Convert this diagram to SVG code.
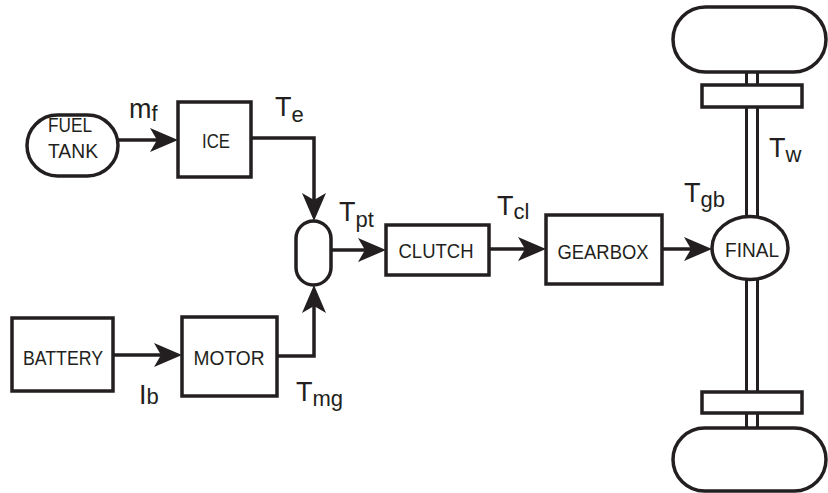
<svg xmlns="http://www.w3.org/2000/svg" width="828" height="493" viewBox="0 0 828 493">
<style>
.box{fill:#fff;stroke:#231f20;stroke-width:3.5}
.lnk{fill:none;stroke:#231f20;stroke-width:3.5}
.sh{fill:none;stroke:#231f20;stroke-width:3}
.t{font-family:"Liberation Sans",Arial,sans-serif;font-size:21px;fill:#231f20;text-anchor:middle}
.lbl{font-family:"Liberation Sans",Arial,sans-serif;font-size:27px;fill:#231f20}
.sub{font-size:22px}
</style>
<defs>
<marker id="ah" viewBox="0 0 28 24" refX="8" refY="12" markerWidth="28" markerHeight="24" markerUnits="userSpaceOnUse" orient="auto">
<path d="M0,0 L28,12 L0,24 L7,12 Z" fill="#231f20"/>
</marker>
</defs>
<g id="connectors">
<path class="lnk" d="M118,140 H158" marker-end="url(#ah)"/>
<path class="lnk" d="M251,138 H314 V201" marker-end="url(#ah)"/>
<path class="lnk" d="M277,356 H314 V305" marker-end="url(#ah)"/>
<path class="lnk" d="M113,355 H162" marker-end="url(#ah)"/>
<path class="lnk" d="M331,250 H366" marker-end="url(#ah)"/>
<path class="lnk" d="M489,249 H526" marker-end="url(#ah)"/>
<path class="lnk" d="M662,249 H692" marker-end="url(#ah)"/>
</g>
<g id="axle">
<path class="sh" d="M746.5,72 V85 M757.5,72 V85 M746.5,107 V217 M757.5,107 V217 M746.5,279 V392 M757.5,279 V392 M746.5,413 V428 M757.5,413 V428"/>
</g>
<g id="wheel-top">
<rect class="box" x="673" y="7" width="153" height="65" rx="32.5"/>
<rect class="box" x="702" y="85" width="100" height="22"/>
</g>
<g id="wheel-bottom">
<rect class="box" x="702" y="392" width="100" height="21"/>
<rect class="box" x="673" y="428" width="153" height="63" rx="31.5"/>
</g>
<g id="fuel-tank">
<rect class="box" x="27" y="115" width="91" height="61" rx="30.5"/>
<text class="t" x="70" y="132" textLength="44" lengthAdjust="spacingAndGlyphs">FUEL</text>
<text class="t" x="73" y="158" textLength="50" lengthAdjust="spacingAndGlyphs">TANK</text>
</g>
<g id="ice">
<rect class="box" x="178" y="102" width="73" height="75"/>
<text class="t" x="216" y="148" textLength="28" lengthAdjust="spacingAndGlyphs">ICE</text>
</g>
<g id="sum">
<rect class="box" x="296" y="221" width="35" height="64" rx="17.5"/>
</g>
<g id="battery">
<rect class="box" x="12" y="318" width="101" height="73"/>
<text class="t" x="63" y="365" textLength="80" lengthAdjust="spacingAndGlyphs">BATTERY</text>
</g>
<g id="motor">
<rect class="box" x="182" y="317" width="95" height="79"/>
<text class="t" x="229" y="365" textLength="71" lengthAdjust="spacingAndGlyphs">MOTOR</text>
</g>
<g id="clutch">
<rect class="box" x="386" y="225" width="103" height="50"/>
<text class="t" x="436" y="258" textLength="75" lengthAdjust="spacingAndGlyphs">CLUTCH</text>
</g>
<g id="gearbox">
<rect class="box" x="546" y="215" width="116" height="69"/>
<text class="t" x="603" y="259" textLength="91" lengthAdjust="spacingAndGlyphs">GEARBOX</text>
</g>
<g id="final">
<ellipse class="box" cx="750" cy="248" rx="38" ry="31.5"/>
<text class="t" x="752" y="257" textLength="54" lengthAdjust="spacingAndGlyphs">FINAL</text>
</g>
<g id="labels">
<text class="lbl" x="129" y="118">m<tspan class="sub" dy="3">f</tspan></text>
<text class="lbl" x="275" y="116">T<tspan class="sub" dy="6">e</tspan></text>
<text class="lbl" x="339" y="221">T<tspan class="sub" dy="6">pt</tspan></text>
<text class="lbl" x="497" y="215">T<tspan class="sub" dy="4">cl</tspan></text>
<text class="lbl" x="684" y="202">T<tspan class="sub" dy="5">gb</tspan></text>
<text class="lbl" x="769" y="157">T<tspan class="sub" dy="5">w</tspan></text>
<text class="lbl" x="296" y="401">T<tspan class="sub" dy="5">mg</tspan></text>
<text class="lbl" x="139" y="404">I<tspan class="sub">b</tspan></text>
</g>
</svg>
